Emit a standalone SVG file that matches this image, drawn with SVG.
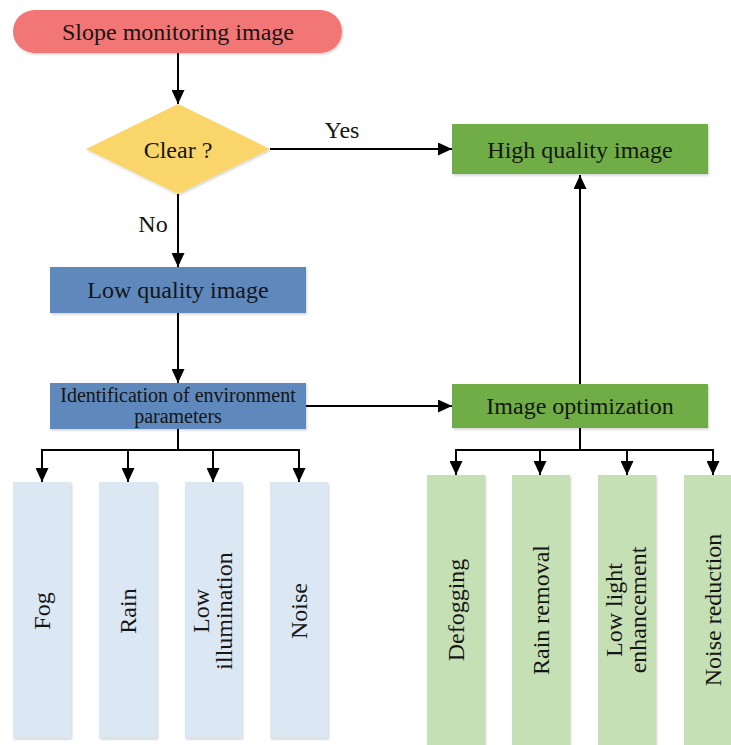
<svg xmlns="http://www.w3.org/2000/svg" width="731" height="745" viewBox="0 0 731 745">
<defs>
<marker id="ah" markerUnits="userSpaceOnUse" markerWidth="14" markerHeight="13" refX="14" refY="6.5" orient="auto"><path d="M0,0 L14,6.5 L0,13 z" fill="#000"/></marker>
<filter id="sh" x="-5%" y="-5%" width="110%" height="115%"><feDropShadow dx="1" dy="1.5" stdDeviation="1.2" flood-color="#000" flood-opacity="0.18"/></filter>
</defs>
<style>
text{font-family:"Liberation Serif","Times New Roman",serif;font-size:24px;fill:#151515;text-anchor:middle;dominant-baseline:central}
.c{fill:none;stroke:#000;stroke-width:2}
.a{marker-end:url(#ah)}
.lb{fill:#DCE7F4;filter:url(#sh)}
.lg{fill:#C5E0B4;filter:url(#sh)}
.bl{fill:#5E89BC;filter:url(#sh)}
.gr{fill:#70AD47;filter:url(#sh)}
</style>
<rect width="731" height="745" fill="#fff"/>
<g id="connectors">
<path class="c a" d="M178,53 V104"/>
<path class="c a" d="M270,149 H452"/>
<path class="c a" d="M178,194 V267"/>
<path class="c a" d="M178,313 V383"/>
<path class="c a" d="M306,406 H452"/>
<path class="c a" d="M580,384 V175"/>
<path class="c" d="M178,429 V450 M41,450 H300"/>
<path class="c a" d="M42,449 V482"/>
<path class="c a" d="M128,449 V482"/>
<path class="c a" d="M213,449 V482"/>
<path class="c a" d="M299,449 V482"/>
<path class="c" d="M580,428 V450 M455,450 H714"/>
<path class="c a" d="M456,449 V475"/>
<path class="c a" d="M540,449 V475"/>
<path class="c a" d="M627,449 V475"/>
<path class="c a" d="M713,449 V475"/>
<text x="342" y="130">Yes</text>
<text x="153" y="224">No</text>
</g>
<g id="start"><rect x="13" y="10" width="329" height="43" rx="21.5" fill="#F27676" filter="url(#sh)"/><text x="178" y="32">Slope monitoring image</text></g>
<g id="clear"><polygon points="178,104 270,149 178,194 86,149" fill="#F9D56A" filter="url(#sh)"/><text x="178" y="150">Clear ?</text></g>
<g id="high"><rect class="gr" x="452" y="124" width="256" height="50"/><text x="580" y="150">High quality image</text></g>
<g id="low"><rect class="bl" x="50" y="267" width="256" height="46"/><text x="178" y="290">Low quality image</text></g>
<g id="ident"><rect class="bl" x="50" y="383" width="256" height="46"/><text x="178" y="395" style="font-size:20px">Identification of environment</text><text x="178" y="416" style="font-size:20px">parameters</text></g>
<g id="optim"><rect class="gr" x="452" y="384" width="256" height="44"/><text x="580" y="406">Image optimization</text></g>
<g id="fog"><rect class="lb" x="13" y="482" width="58" height="256"/><text transform="translate(42,611) rotate(-90)">Fog</text></g>
<g id="rain"><rect class="lb" x="99" y="482" width="58" height="256"/><text transform="translate(128,611) rotate(-90)">Rain</text></g>
<g id="lowillum"><rect class="lb" x="185" y="482" width="57" height="256"/><text transform="translate(213,611) rotate(-90)"><tspan x="0" y="-12">Low</tspan><tspan x="0" y="11">illumination</tspan></text></g>
<g id="noise"><rect class="lb" x="270" y="482" width="58" height="256"/><text transform="translate(299,611) rotate(-90)">Noise</text></g>
<g id="defog"><rect class="lg" x="427" y="475" width="58" height="275"/><text transform="translate(456,610) rotate(-90)">Defogging</text></g>
<g id="rainrem"><rect class="lg" x="512" y="475" width="58" height="275"/><text transform="translate(541,610) rotate(-90)">Rain removal</text></g>
<g id="lowlight"><rect class="lg" x="598" y="475" width="58" height="275"/><text transform="translate(627,610) rotate(-90)"><tspan x="0" y="-13">Low light</tspan><tspan x="0" y="11">enhancement</tspan></text></g>
<g id="noisered"><rect class="lg" x="684" y="475" width="58" height="275"/><text transform="translate(713,610) rotate(-90)">Noise reduction</text></g>
</svg>
